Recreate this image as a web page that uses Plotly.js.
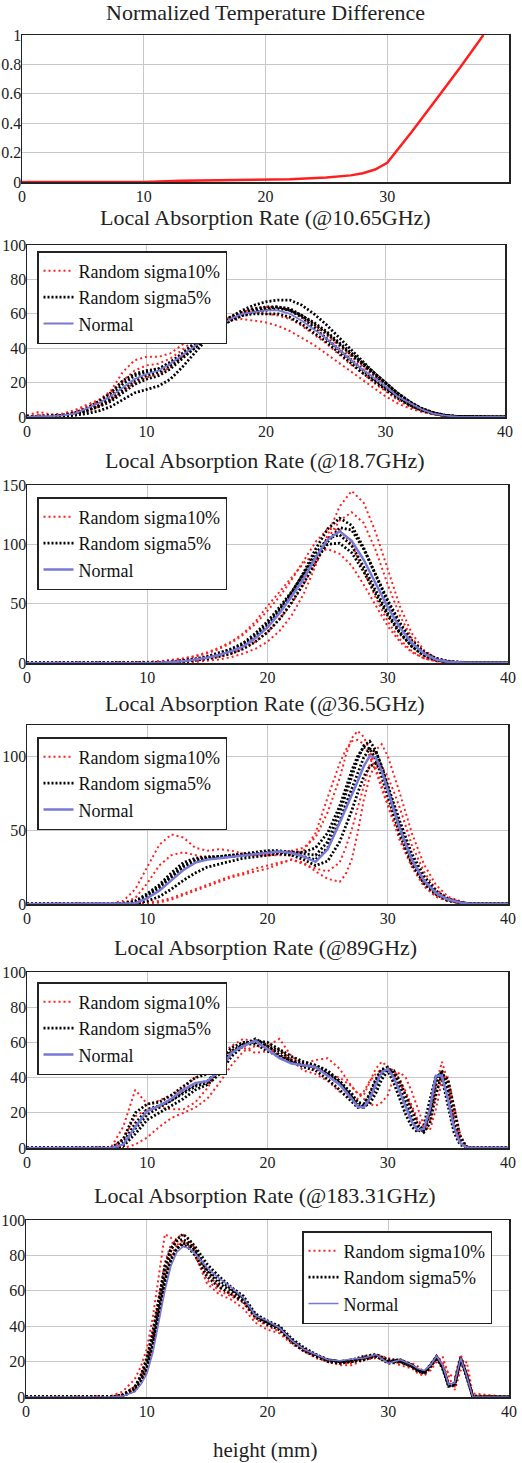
<!DOCTYPE html>
<html>
<head>
<meta charset="utf-8">
<script src="https://cdn.plot.ly/plotly-3.0.1.min.js"></script>
<style>html,body{margin:0;padding:0;background:#fff;}#chart{width:522px;height:1463px;}</style>
</head>
<body>
<div id="chart"></div>
<script>
// ---------- Panel 1: Normalized Temperature Difference ----------
const xTemp = [0,5,10,13,15,20,22,25,27,28,29,30,32,34,36,37.9];
const tempDiff = [0,0,0,0.008,0.01,0.014,0.018,0.03,0.045,0.06,0.085,0.13,0.34,0.56,0.78,1.0];

// ---------- Panel 2: 10.65 GHz ----------
const x10 = [0,1,2,3,4,5,6,7,8,9,10,11,12,13,14,15,16,17,18,19,20,21,22,23,24,25,26,27,28,29,30,31,32,33,34,35,36,40];
const n10 = [0,0.5,0.5,1,2,5,8,12,17,22,25,27,31,36,41,47,52,57,60,61,62,62,60,56,51,46,40,34,28,23,18,12,8,4.5,2,0.8,0.2,0];
const s10_10a = [1,3,1.5,2,4,7,10,15,26,33,35,35,37,42,47,51,54,56,57,56,55,53,50,46,42,37,32,27,22,17,12,8,5,3,1.5,0.5,0,0];
const s10_10b = [0.5,1.5,1,1.5,3,6,9,14,21,27,30,31,34,39,45,50,55,58,60,61,60,59,57,53,48,43,37,31,26,20,15,10,6,3.5,1.5,0.5,0,0];
const s10_10c = [0,0.5,0.5,1,2,3.5,6,10,15,20,23,25,29,35,41,47,53,58,61,63,64,64,62,58,53,48,42,36,30,24,19,13,8,5,2.5,1,0.3,0];
const s5_10a = [0,0,0,0.5,1,2,3.5,6,10,14,16,18,22,29,37,45,52,58,62,65,67,68,68,65,60,54,47,40,33,26,20,14,9,5,2.5,1,0.3,0];
const s5_10b = [0,0.5,0.5,1,2.5,5,9,14,21,25,27,28,32,37,43,49,54,58,61,63,64,64,63,59,54,49,43,37,31,25,19,13,8.5,5,2.5,1,0.3,0];
const s5_10c = [0,0.3,0.3,0.8,1.5,3.5,6,9,14,19,22,24,28,34,40,46,52,56,59,60,60,60,58,54,49,44,38,32,26,21,16,11,7,4,2,0.8,0.2,0];
const s5_10d = [0,0.5,0.5,1,2,4,7,12,19,24,26,28,31,36,42,48,53,57,60,62,63,64,62,58,52,46,40,34,28,22,17,12,7,4,2,0.8,0.2,0];
const s5_10e = [0,0.3,0.3,0.8,1.8,4,6.5,10,16,21,24,26,30,35,40,46,51,56,59,61,62,63,62,59,55,50,44,38,32,26,20,14,9,5,2.5,1,0.3,0];

// ---------- Panel 3: 18.7 GHz ----------
const x18 = [0,8,9,10,11,12,13,14,15,16,17,18,19,20,21,22,23,24,25,26,27,28,29,30,31,32,33,34,35,36,37,40];
const n18 = [0, 0,0,0,0.3,0.8,1.5,3,4.5,7,10, 14,21,30,42,56,71,89,104,111,103, 87,67,47,30,17,8,3,1,0.2,0, 0];
const s10_18a = [0, 0,0,0,0,0.3,0.6,1,2,3,5, 8,12,18,27,40,58,82,108,132,145, 135,110,78,48,25,11,4,1.5,0.5,0, 0];
const s10_18b = [0, 0.3,0.5,1,1.5,2.5,4,6,9,13,18, 25,35,48,60,72,84,93,96,92,82, 66,48,31,18,9,4,1.5,0.5,0,0, 0];
const s10_18c = [0, 0,0,0,0.2,0.5,1,2,3.5,5.5,8, 12,18,26,37,50,66,85,105,120,127, 118,95,66,40,21,9,3.5,1,0.3,0, 0];
const s10_18d = [0, 0,0.2,0.5,1,2,3.5,5.5,8,12,17, 24,33,44,56,70,86,102,113,112,100, 78,55,35,20,10,4,1.5,0.5,0,0, 0];
const s5_18a = [0, 0,0,0,0.3,0.8,1.5,3,4.5,7,10, 15,22,31,44,59,76,96,113,122,116, 97,74,51,32,18,9,3.5,1.2,0.3,0, 0];
const s5_18b = [0, 0,0,0.2,0.5,1,2,3.5,5.5,8.5,12, 17,25,35,47,60,74,89,100,101,93, 77,58,40,25,14,6.5,2.5,0.8,0.2,0, 0];
const s5_18c = [0, 0,0,0,0.2,0.5,1,2,3.5,5.5,8, 12,18,26,37,51,67,85,102,114,112, 96,75,53,34,19,9.5,4,1.5,0.5,0, 0];
const s5_18d = [0, 0,0,0,0.3,0.8,1.8,3.2,5,8,11, 16,23,33,45,59,75,92,105,108,99, 81,61,42,26,14,6.5,2.5,0.8,0.2,0, 0];

// ---------- Panel 4: 36.5 GHz ----------
const x36 = [0, 7,8,9,10,11,12,13,14,15,16, 17,18,19,20,21,22,23,24,25,26, 26.5,27,27.5,28,28.5,29,29.5,30,30.5,31, 32,33,34,35,36,37, 40];
const n36 = [0, 0,0,0.5,4,9,16,23,28,30,31, 32,33,34,35,35.5,34.5,32,28.5,37,55, 64,73,83,93,100,99,90,77,64,51, 30,16,7.5,3,1,0, 0];
const s10_36a = [0, 0.5,2,10,25,40,47,45,38,36,37, 36,34,33,33,34,36,38,45,62,85, 100,112,117,113,104,92,80,68,56,45, 26,13,5,2,0.5,0, 0];
const s10_36b = [0, 0,0,0,1,2,4,7,10,13,16, 19,21,24,26,28,30,28,22,17,15, 20,30,48,70,86,95,93,86,76,65, 40,22,10,4,1.5,0, 0];
const s10_36c = [0, 0,0.5,4,14,26,33,35,33,31,31, 32,33,33,33,33,33,36,48,72,95, 104,110,111,108,100,90,78,66,54,43, 25,12,5,2,0.5,0, 0];
const s10_36d = [0, 0,0,0,0.5,1,3,6,9,12,15, 18,20,22,24,27,30,27,24,22,28, 38,50,65,80,94,104,108,100,88,75, 48,27,13,5,2,0, 0];
const s5_36a = [0, 0,0.5,2,7,13,21,28,31,32,32, 33,34,35,36,36,35,34,33,42,62, 74,86,98,107,110,104,92,78,64,51, 29,15,7,2.5,0.8,0, 0];
const s5_36b = [0, 0,0,0.3,2,5,10,16,21,25,27, 29,31,32,33,34,33,30,26,29,42, 52,63,75,86,93,95,90,80,68,56, 34,19,9,3.5,1.2,0, 0];
const s5_36c = [0, 0,0.2,1,5,11,18,25,29,31,32, 32,33,34,35,35,34,32,30,38,56, 67,78,89,99,105,103,93,80,66,53, 31,16,7.5,3,1,0, 0];
const s5_36d = [0, 0,0.3,1.5,6,12,19,26,30,31,32, 33,33,34,35,35,35,35,38,48,66, 78,90,100,106,105,98,86,73,60,47, 27,14,6.5,2.5,0.8,0, 0];

// ---------- Panel 5: 89 GHz ----------
const x89 = [0, 7,8,9,10,11,12,13,14,15,16,17,18,19,20,21,22,23,24,25,26,27,
  27.5,28,28.5,29,29.5,30,30.5,31,31.5,32,32.5,33,33.5,34,34.5,35,35.5,36,36.5,37, 40];
const n89 = [0, 0,2,12,21,24,28,33,37,38,44,54,58,61,56,51,48,47,46,41,36,28,
  23.5,23,28,36,43,45,40,32,23,15,10,11,22,41,41,28,12,3,0.5,0, 0];
const s10_89a = [0, 0.5,12,33,25,27,30,34,40,46,52,58,62,60,58,62,52,48,50,51,45,35,
  31,30,38,45,49,46,42,37,30,22,15,12,15,35,49,38,18,5,1,0, 0];
const s10_89b = [0, 0,0,2,6,12,17,20,23,28,37,47,55,58,57,53,50,47,45,42,40,35,
  31,28,25,24,26,30,40,43,40,32,22,13,10,22,38,40,25,8,1,0, 0];
const s10_89c = [0, 0,5,18,22,23,22,22,26,34,45,55,57,54,55,56,50,44,42,38,32,28,
  28,32,38,42,45,46,44,39,32,24,16,12,18,30,43,36,16,4,0.5,0, 0];
const s5_89a = [0, 0,5,20,25,26,30,35,40,42,48,57,60,60,58,55,50,48,47,44,38,30,
  26,25,30,38,44,46,42,34,25,17,11,10,20,36,44,33,14,4,0.5,0, 0];
const s5_89b = [0, 0,1,8,16,20,24,28,33,36,42,52,58,61,60,56,52,49,47,43,38,31,
  26,24,25,31,39,44,44,38,30,21,13,9,14,30,42,39,22,7,1,0, 0];
const s5_89c = [0, 0,3,14,22,24,27,31,35,37,44,54,59,59,55,52,49,46,44,39,33,26,
  23,24,31,39,45,44,37,28,19,12,9,13,27,41,40,25,9,2,0.3,0, 0];
const s5_89d = [0, 0,2,11,19,23,27,32,36,38,45,55,59,62,58,53,49,47,46,42,37,29,
  24,23,27,35,42,45,41,33,24,16,10,10,21,40,43,30,13,3.5,0.5,0, 0];

// ---------- Panel 6: 183.31 GHz ----------
const x183 = [0, 7,8,9, 9.5,10,10.5,11,11.5,12,12.5,13,13.5,14,
  15,16,17,18,19,20,21,22,23,24,25,26,27,28,29,30,31,32,
  32.5,33,33.5,34,34.5,35,35.5,36,36.5,37, 40];
const n183 = [0, 0,0.5,3, 7,13,25,42,60,74,82,85,84,81,
  73,67,62,56,46,43,39,32,27,24,21,20.5,21.5,22,24,19,21,18,
  16,15,18,23,18,7,8,22,12,0, 0];
const s10_183a = [0, 0.5,3,10, 17,27,45,68,92,90,86,88,86,80,
  64,58,55,50,42,38,36,30,26,23,20,19,19,22,23,21,19,17,
  15,14,19,22,20,13,11,24,15,0, 0];
const s10_183b = [0, 0,1.5,6, 12,20,35,56,76,86,90,92,89,84,
  70,62,58,54,46,42,39,32,27,23,21,19,20,23,24,22,20,19,
  17,14,15,20,23,12,4,15,20,2, 0];
const s10_183c = [0, 0,1,4, 9,16,30,50,68,80,86,87,85,80,
  66,60,57,53,44,40,37,31,26,22,20,18,18,21,22,20,18,16,
  13,12,16,22,19,8,6,20,14,1, 0];
const s5_183a = [0, 0,1,5, 11,20,34,53,71,83,89,92,89,85,
  75,68,62,57,47,43,40,33,28,24,21,20,21,23,24,21,21,18,
  15,14,18,23,17,6,7,22,12,0, 0];
const s5_183b = [0, 0,0.8,4, 9,17,30,48,66,78,84,86,84,80,
  68,62,58,54,45,41,38,31,26,23,20,19,20,21,23,19,20,17,
  15,13,17,22,17,7,6,21,11,0, 0];
const s5_183c = [0, 0,1.2,5.5, 12,22,37,56,74,84,88,89,87,83,
  71,64,60,55,46,42,39,32,27,23,21,20,20,22,23,20,20,17,
  14,14,18,22,16,6,8,22,12,0, 0];
const s5_183d = [0, 0,0.6,3.5, 8,15,28,46,64,77,84,87,86,82,
  72,66,61,56,46,42,39,32,27,24,21,20,21,22,24,20,21,18,
  15,14,18,23,17,7,7,22,12,0, 0];

// ---------- Labels ----------
const panelTitles = ['Normalized Temperature Difference','Local Absorption Rate (@10.65GHz)','Local Absorption Rate (@18.7GHz)','Local Absorption Rate (@36.5GHz)','Local Absorption Rate (@89GHz)','Local Absorption Rate (@183.31GHz)'];
const seriesNames = ['Random sigma10%','Random sigma5%','Normal'];
const xLabel = 'height (mm)';

// ---------- Build ----------
const W = 522, H = 1463;
const FONT = 'Liberation Serif';
const px = v => v / W;
const py = v => 1 - v / H;
const RED = '#ff1f1f', BLACK = '#000000', BLUE = '#7878d6';
const traces = [];

traces.push({x: xTemp, y: tempDiff, xaxis: 'x', yaxis: 'y', mode: 'lines',
  line: {color: RED, width: 2.5}, showlegend: false, hoverinfo: 'skip'});

function addPanel(k, legendId, x, reds, blacks, normal, nWidth) {
  const xa = 'x' + k, ya = 'y' + k;
  reds.forEach((y, i) => traces.push({x, y, xaxis: xa, yaxis: ya, mode: 'lines', name: seriesNames[0],
    legend: legendId, showlegend: i === 0, line: {color: RED, width: 2, dash: '2px,3px'}, hoverinfo: 'skip'}));
  blacks.forEach((y, i) => traces.push({x, y, xaxis: xa, yaxis: ya, mode: 'lines', name: seriesNames[1],
    legend: legendId, showlegend: i === 0, line: {color: BLACK, width: 2.8, dash: '2px,2px'}, hoverinfo: 'skip'}));
  traces.push({x, y: normal, xaxis: xa, yaxis: ya, mode: 'lines', name: seriesNames[2],
    legend: legendId, showlegend: true, line: {color: BLUE, width: nWidth}, hoverinfo: 'skip'});
}
addPanel(2, 'legend', x10, [s10_10a, s10_10b, s10_10c], [s5_10a, s5_10b, s5_10c, s5_10d, s5_10e], n10, 1.8);
addPanel(3, 'legend2', x18, [s10_18a, s10_18b, s10_18c, s10_18d], [s5_18a, s5_18b, s5_18c, s5_18d], n18, 2.5);
addPanel(4, 'legend3', x36, [s10_36a, s10_36b, s10_36c, s10_36d], [s5_36a, s5_36b, s5_36c, s5_36d], n36, 2.5);
addPanel(5, 'legend4', x89, [s10_89a, s10_89b, s10_89c], [s5_89a, s5_89b, s5_89c, s5_89d], n89, 2.5);
addPanel(6, 'legend5', x183, [s10_183a, s10_183b, s10_183c], [s5_183a, s5_183b, s5_183c, s5_183d], n183, 1.6);

// panel pixel boxes: [left, right, top, bottom]
const boxes = [[22,509,35,182],[27,505,245,417],[27,508,485,663],[27,508,725,904],[27,508,972,1148],[26,509,1220,1397]];
const yRanges = [[0,1],[0,100],[0,150],[0,121],[0,100],[0,100]];
const yDticks = [0.2,20,50,50,20,20];
const titleY = [12.7,217,461,703,947,1195];
const legendPos = [[37,251],[37,497],[37,737],[37,982],[302,1231]];

const layout = {
  width: W, height: H, margin: {l:0, r:0, t:0, b:0},
  paper_bgcolor: '#fff', plot_bgcolor: '#fff',
  font: {family: FONT, size: 16, color: '#222'},
  annotations: [], hovermode: false
};
for (let i = 0; i < 6; i++) {
  const s = i === 0 ? '' : String(i + 1);
  const b = boxes[i];
  const axCommon = {showline: true, mirror: true, linecolor: '#222', linewidth: 1.5,
    gridcolor: '#c8c8c8', gridwidth: 1, zeroline: false, ticks: '', fixedrange: true,
    tickfont: {family: FONT, size: 16, color: '#222'}};
  layout['xaxis' + s] = Object.assign({}, axCommon, {domain: [px(b[0]), px(b[1])], anchor: 'y' + s,
    range: [0, 40], tickvals: i === 0 ? [0,10,20,30] : [0,10,20,30,40], ticklabelstandoff: -1});
  layout['yaxis' + s] = Object.assign({}, axCommon, {domain: [py(b[3]), py(b[2])], anchor: 'x' + s,
    range: yRanges[i], dtick: yDticks[i], tick0: 0, ticklabelstandoff: -4});
  layout.annotations.push({text: panelTitles[i], xref: 'paper', yref: 'paper', x: px(265), y: py(titleY[i]),
    xanchor: 'center', yanchor: 'middle', showarrow: false, font: {family: FONT, size: 22, color: '#222'}});
}
layout.annotations.push({text: xLabel, xref: 'paper', yref: 'paper', x: px(265), y: py(1450),
  xanchor: 'center', yanchor: 'middle', showarrow: false, font: {family: FONT, size: 21, color: '#222'}});

['legend','legend2','legend3','legend4','legend5'].forEach((id, j) => {
  layout[id] = {x: px(legendPos[j][0]), y: py(legendPos[j][1]), xref: 'paper', yref: 'paper',
    xanchor: 'left', yanchor: 'top', bgcolor: '#fff', bordercolor: '#222', borderwidth: 1.5,
    font: {family: FONT, size: 18, color: '#111'}, tracegroupgap: 0, traceorder: 'normal'};
});

Plotly.newPlot('chart', traces, layout, {staticPlot: true, displayModeBar: false});
</script>
</body>
</html>
